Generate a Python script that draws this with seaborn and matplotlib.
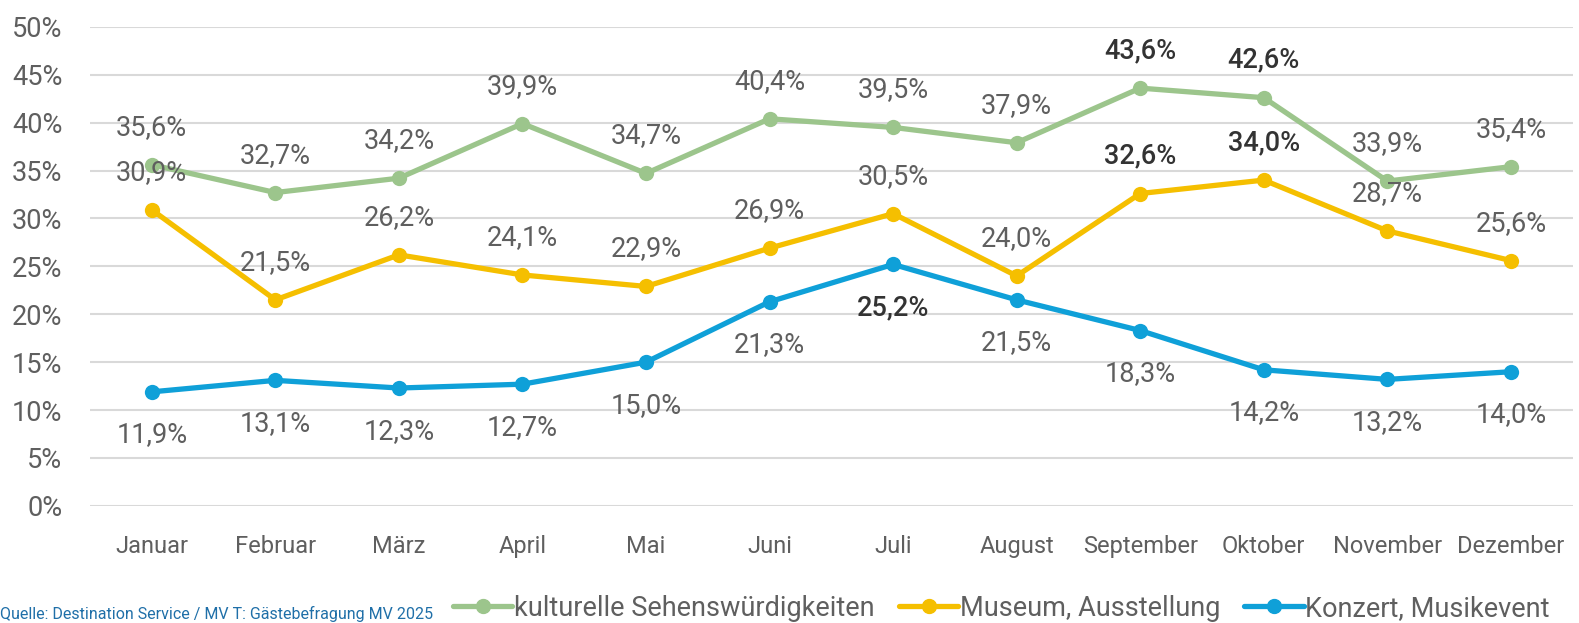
import numpy as np
import pandas as pd
import matplotlib
matplotlib.use("Agg")
import matplotlib.pyplot as plt
import seaborn as sns

# Werte
monate = ["Januar", "Februar", "März", "April", "Mai", "Juni", "Juli",
          "August", "September", "Oktober", "November", "Dezember"]
kultur = [35.6, 32.7, 34.2, 39.9, 34.7, 40.4, 39.5, 37.9, 43.6, 42.6, 33.9, 35.4]
museum = [30.9, 21.5, 26.2, 24.1, 22.9, 26.9, 30.5, 24.0, 32.6, 34.0, 28.7, 25.6]
konzert = [11.9, 13.1, 12.3, 12.7, 15.0, 21.3, 25.2, 21.5, 18.3, 14.2, 13.2, 14.0]
serien = ["kulturelle Sehenswürdigkeiten", "Museum, Ausstellung", "Konzert, Musikevent"]
farben = ["#9CC58C", "#F5BF00", "#0FA0D8"]
# hervorgehobene Beschriftungen (Serie, Monatsindex)
hervor = {(0, 8), (0, 9), (1, 8), (1, 9), (2, 6)}

df = pd.DataFrame({
    "x": list(range(12)) * 3,
    "Wert": kultur + museum + konzert,
    "Serie": [s for s in serien for _ in monate],
})

sns.set_theme(style="white")
plt.rcParams["font.family"] = ["Roboto", "DejaVu Sans"]

fig = plt.figure(figsize=(15.79, 6.23), dpi=100)
ax = fig.add_axes([0.057, 0.188, 0.939, 0.769])

sns.lineplot(data=df, x="x", y="Wert", hue="Serie", palette=farben,
             marker="o", markersize=11, markeredgewidth=0, linewidth=3.8,
             ax=ax, legend=False, sort=False)

grau = "#5F5F5F"
for i, werte in enumerate([kultur, museum, konzert]):
    dy = -31 if i == 2 else 27
    for j, v in enumerate(werte):
        fett = (i, j) in hervor
        ax.annotate(f"{v:.1f}%".replace(".", ","), (j, v), textcoords="offset points",
                    xytext=(0, dy), ha="center", va="center", fontsize=19.5,
                    color="#333333" if fett else grau,
                    fontweight="medium" if fett else "normal")

ax.set_xlim(-0.5, 11.5)
ax.set_ylim(0, 50)
ax.set_yticks(np.arange(0, 51, 5))
ax.set_yticklabels([f"{t}%" for t in range(0, 51, 5)], fontsize=19.5, color=grau)
ax.set_xticks(range(12))
ax.set_xticklabels(monate, fontsize=17, color=grau)
ax.tick_params(axis="x", length=0, pad=21)
ax.tick_params(axis="y", length=0, pad=20)
ax.yaxis.grid(True, color="#D9D9D9", linewidth=1.5)
ax.set_axisbelow(True)
ax.set_xlabel("")
ax.set_ylabel("")
for s in ax.spines.values():
    s.set_visible(False)

handles = [plt.Line2D([], [], color=c, marker="o", markersize=10, linewidth=3.8) for c in farben]
fig.legend(handles, serien, loc="center right", bbox_to_anchor=(0.997, 0.024), ncol=3,
           frameon=False, handlelength=2.2, handletextpad=0.05, columnspacing=0.9,
           labelcolor=grau, prop={"size": 19.5})

fig.text(0.0, 0.001, "Quelle: Destination Service / MV T: Gästebefragung MV 2025",
         fontsize=11.5, color="#1F6FA8", ha="left", va="bottom")

fig.savefig("out.png", dpi=100)
